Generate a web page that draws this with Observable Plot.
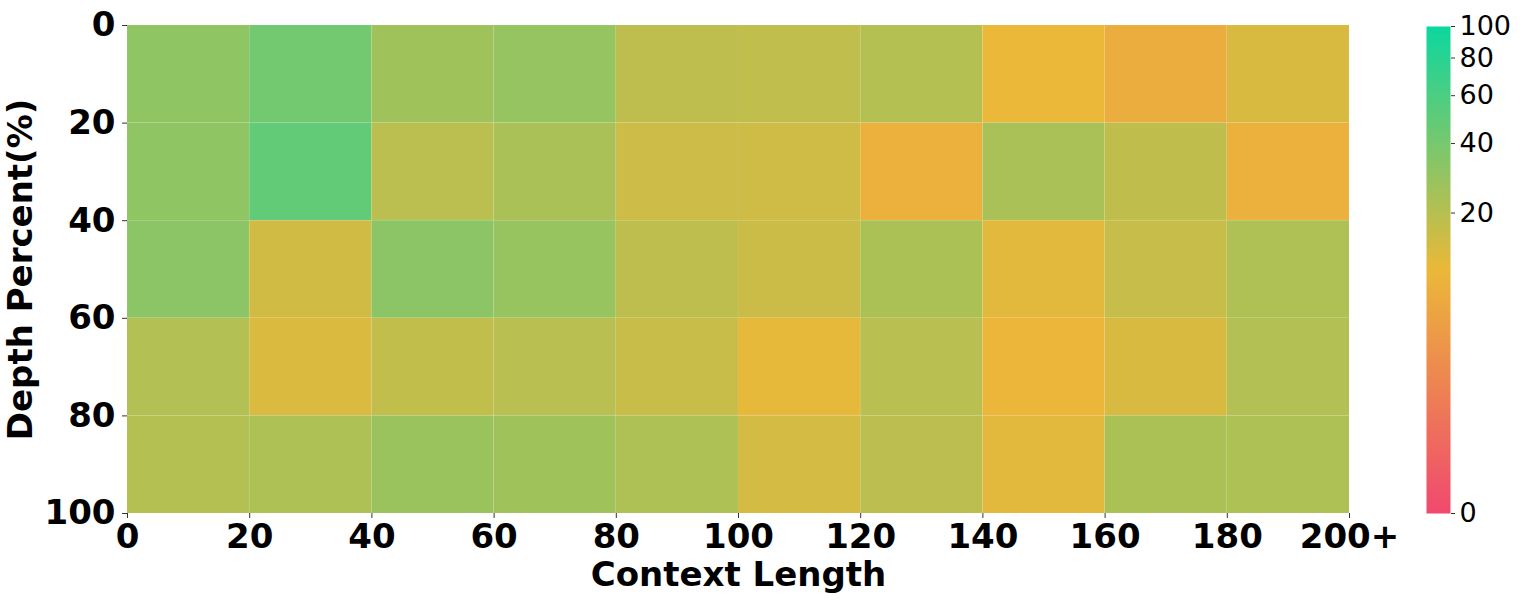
<!DOCTYPE html>
<html>
<head>
<meta charset="utf-8">
<script src="https://cdn.jsdelivr.net/npm/d3@7"></script>
<script src="https://cdn.jsdelivr.net/npm/@observablehq/plot@0.6"></script>
<style>
  html, body { margin: 0; padding: 0; background: #ffffff; }
  #chart { position: relative; width: 1522px; height: 603px; overflow: hidden; background: #fff; }
  #chart svg { position: absolute; top: 0; }
</style>
</head>
<body>
<div id="chart"></div>
<script>
// Bin edges and tick labels
const contextEdges = [0, 20, 40, 60, 80, 100, 120, 140, 160, 180, 200];
const depthEdges = [0, 20, 40, 60, 80, 100];
const contextTickLabels = ["0", "20", "40", "60", "80", "100", "120", "140", "160", "180", "200+"];
const colorbarTicks = [0, 20, 40, 60, 80, 100];

// Scores per depth row (one value per context-length bin)
const depth0to20   = [31.3, 42.0, 26.1, 29.0, 18.5, 17.8, 20.7, 9.8, 7.0, 12.8];
const depth20to40  = [31.3, 49.0, 19.0, 23.3, 15.1, 15.0, 8.1, 23.3, 18.0, 8.1];
const depth40to60  = [32.7, 14.5, 32.5, 28.5, 18.3, 15.5, 23.0, 11.2, 16.4, 22.0];
const depth60to80  = [20.9, 12.5, 17.4, 19.5, 16.0, 10.5, 19.5, 9.3, 12.8, 21.0];
const depth80to100 = [20.7, 22.5, 27.9, 26.0, 22.5, 13.8, 18.8, 11.2, 23.0, 22.5];
const depthRows = [depth0to20, depth20to40, depth40to60, depth60to80, depth80to100];

const cmapColors = ["#F0496E", "#EBB839", "#0CD79F"];

const cells = [];
depthRows.forEach((row, r) => {
  row.forEach((score, c) => {
    cells.push({
      x1: contextEdges[c], x2: contextEdges[c + 1],
      y1: depthEdges[r], y2: depthEdges[r + 1],
      score
    });
  });
});

const colorScale = {
  type: "pow",
  exponent: 0.3,
  domain: [0, 100],
  interpolate: d3.piecewise(d3.interpolateRgb, cmapColors)
};

const font = "'DejaVu Sans', sans-serif";

const main = Plot.plot({
  width: 1400,
  height: 603,
  marginLeft: 127,
  marginRight: 51,
  marginTop: 25,
  marginBottom: 90,
  style: { fontFamily: font, color: "#000", background: "transparent" },
  x: { domain: [0, 200], axis: null },
  y: { domain: [0, 100], reverse: true, axis: null },
  color: colorScale,
  marks: [
    Plot.rect(cells, {
      x1: "x1", x2: "x2", y1: "y1", y2: "y2",
      fill: "score",
      stroke: "#ffffff", strokeOpacity: 0.06, strokeWidth: 1
    }),
    Plot.axisX({
      ticks: contextEdges,
      tickFormat: (d) => contextTickLabels[contextEdges.indexOf(d)],
      tickSize: 5, tickPadding: 5,
      fontSize: 34, fontWeight: "bold",
      stroke: "#333", strokeWidth: 1,
      label: null
    }),
    Plot.axisY({
      ticks: depthEdges,
      tickSize: 5, tickPadding: 7,
      fontSize: 34, fontWeight: "bold",
      stroke: "#333", strokeWidth: 1,
      label: null
    }),
    Plot.text(["Context Length"], {
      frameAnchor: "bottom", dy: 62,
      lineAnchor: "middle", textAnchor: "middle",
      fontSize: 34, fontWeight: "bold", fill: "#000"
    }),
    Plot.text(["Depth Percent(%)"], {
      frameAnchor: "left", dx: -106, rotate: -90,
      lineAnchor: "middle", textAnchor: "middle",
      fontSize: 34, fontWeight: "bold", fill: "#000"
    })
  ]
});
main.style.left = "0px";

const bar = Plot.plot({
  width: 122,
  height: 603,
  marginLeft: 26,
  marginRight: 72,
  marginTop: 26,
  marginBottom: 90,
  style: { fontFamily: font, color: "#000", background: "transparent" },
  x: { domain: [0, 1], axis: null },
  y: { type: "pow", exponent: 0.3, domain: [0, 100], axis: null },
  color: colorScale,
  marks: [
    Plot.raster({
      x1: 0, x2: 1, y1: 0, y2: 100,
      fill: (x, y) => y
    }),
    Plot.axisY({
      anchor: "right",
      ticks: colorbarTicks,
      tickSize: 4, tickPadding: 5,
      fontSize: 27,
      stroke: "#333", strokeWidth: 1,
      label: null
    })
  ]
});
bar.style.left = "1400px";

const chart = document.getElementById("chart");
chart.appendChild(main);
chart.appendChild(bar);
</script>
</body>
</html>
